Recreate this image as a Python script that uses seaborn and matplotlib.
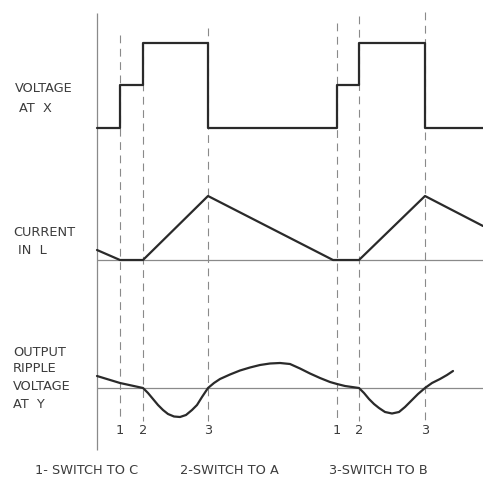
import numpy as np
import pandas as pd
import matplotlib
matplotlib.use("Agg")
import matplotlib.pyplot as plt
import seaborn as sns

# switching instants (diagram time units) and their labels
switch_t = [120, 143, 208, 337, 359, 425]
switch_lbl = ["1", "2", "3", "1", "2", "3"]
switch_top = [35, 43, 28, 23, 16, 12]      # where each dashed marker starts

# voltage at X: stepped pulse (height above its baseline)
volt_t = [97, 120, 120, 143, 143, 208, 208, 337, 337, 359, 359, 425, 425, 483]
volt_v = [0, 0, 43, 43, 85, 85, 0, 0, 43, 43, 85, 85, 0, 0]

# current in L: triangular ramp
cur_t = [97, 120, 143, 208, 333, 359, 425, 483]
cur_v = [10, 0, 0, 64, 0, 0, 64, 34]

# output ripple voltage at Y
rip_t = [97, 120, 143, 148, 153, 158, 163, 168, 174, 180, 186, 192, 197, 202, 208,
         214, 220, 230, 240, 250, 260, 270, 280, 290, 300, 310, 320, 330, 337, 345,
         352, 359, 364, 369, 374, 379, 385, 392, 399, 405, 411, 418, 425, 432, 440,
         447, 453]
rip_v = [12, 5, 0, -5, -11, -17, -22, -26, -28.5, -29, -27, -22, -17, -9, 0,
         5, 9, 13.5, 17.5, 20.5, 23, 24.5, 25, 24, 19.5, 14.5, 10, 6, 4, 2,
         1, 0, -5, -11, -16, -20, -24, -25.5, -24, -19, -13, -6, 0, 5, 9,
         13, 17]

baselines = [128, 260, 388]
left_labels = [["VOLTAGE", "AT  X"], ["CURRENT", "IN  L"],
               ["OUTPUT", "RIPPLE", "VOLTAGE", "AT  Y"]]
label_x = [[15, 19], [13, 18], [13, 13, 13, 13]]
label_y = [[88, 108], [232, 250], [352, 369, 386, 404]]
legend_txt = ["1- SWITCH TO C", "2-SWITCH TO A", "3-SWITCH TO B"]
legend_x = [87, 229, 378]

sns.set_style("white")
plt.rcParams["font.family"] = ["DejaVu Sans"]

fig = plt.figure(figsize=(4.83, 4.78), dpi=100)
ax = fig.add_axes([0, 0, 1, 1])

ink = "#2a2a2a"
grey = "#8a8a8a"
txt = "#3c3c3c"

# frame line and zero lines
ax.vlines(97, 13, 450, color=grey, lw=0.9)
ax.hlines(baselines[1:], 97, 483, color=grey, lw=0.9)
ax.vlines(switch_t, switch_top, 421, color=grey, lw=0.8, linestyles=(0, (7, 5)))

df_v = pd.DataFrame({"t": volt_t, "y": [baselines[0] - v for v in volt_v]})
df_c = pd.DataFrame({"t": cur_t, "y": [baselines[1] - v for v in cur_v]})
df_r = pd.DataFrame({"t": rip_t, "y": [baselines[2] - v for v in rip_v]})
for d in (df_v, df_c, df_r):
    sns.lineplot(data=d, x="t", y="y", ax=ax, sort=False, estimator=None,
                 color=ink, lw=1.6)
ax.set_xlim(0, 483)
ax.set_ylim(478, 0)
ax.axis("off")

font = dict(color=txt, fontsize=9.3)
for lines, xs, ys in zip(left_labels, label_x, label_y):
    for s, x, y in zip(lines, xs, ys):
        ax.text(x, y, s, ha="left", va="center", **font)

for t, s in zip(switch_t, switch_lbl):
    ax.text(t, 431, s, ha="center", va="center", **font)

for x, s in zip(legend_x, legend_txt):
    ax.text(x, 471, s, ha="center", va="center", **font)

fig.savefig("out.png", dpi=100)
